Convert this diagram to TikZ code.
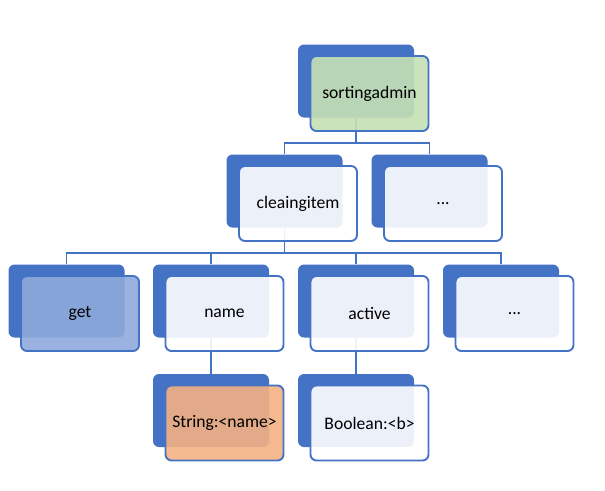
\documentclass[tikz,border=0pt]{standalone}
\usepackage{fontspec}
\setmainfont{Carlito}
\usetikzlibrary{calc}
\definecolor{sablue}{HTML}{4472C4}
\definecolor{sagreen}{HTML}{C5E0B4}
\definecolor{saltblue}{HTML}{8FAADC}
\definecolor{saorange}{HTML}{F4B183}
\definecolor{sawhite}{HTML}{FFFFFF}
\begin{document}
\begin{tikzpicture}[x=1pt,y=-1pt,
  backbox/.style={draw=none,fill=sablue,rounded corners=6pt,minimum width=116pt,minimum height=73pt,inner sep=0pt},
  frontbox/.style={draw=sablue,line width=1.9pt,rounded corners=6pt,minimum width=118pt,minimum height=75pt,inner sep=0pt,fill opacity=0.9,text opacity=1,font=\fontsize{17.6}{20}\selectfont,fill=#1},
  frontbox/.default=sawhite,
  conn/.style={draw=sablue,line width=1.9pt}]
\useasboundingbox (0,0) rectangle (605,490);
% back boxes
\node[backbox] (sb) at (356,81) {};
\node[backbox] (cb) at (284.5,191) {};
\node[backbox] (db) at (429.5,191) {};
\node[backbox] (gb) at (66.5,301) {};
\node[backbox] (nb) at (211,301) {};
\node[backbox] (ab) at (356,301) {};
\node[backbox] (eb) at (501,301) {};
\node[backbox] (tb) at (211,410.5) {};
\node[backbox] (bb) at (356,410.5) {};
% connectors
\draw[conn] (sb.south) -- ++(0,25) -| (cb.north);
\draw[conn] (sb.south) -- ++(0,25) -| (db.north);
\draw[conn] (cb.south) -- ++(0,25) -| (gb.north);
\draw[conn] (cb.south) -- ++(0,25) -| (nb.north);
\draw[conn] (cb.south) -- ++(0,25) -| (ab.north);
\draw[conn] (cb.south) -- ++(0,25) -| (eb.north);
\draw[conn] (nb.south) -- (tb.north);
\draw[conn] (ab.south) -- (bb.north);
% front boxes
\node[frontbox=sagreen] (sf) at ($(sb)+(13.5,12.5)$) {sortingadmin};
\node[frontbox] (cf) at ($(cb)+(13.5,12.5)$) {cleaingitem};
\node[frontbox] (df) at ($(db)+(13.5,12.5)$) {...};
\node[frontbox=saltblue] (gf) at ($(gb)+(13.5,12.5)$) {get};
\node[frontbox] (nf) at ($(nb)+(13.5,12.5)$) {name};
\node[frontbox] (af) at ($(ab)+(13.5,12.5)$) {active};
\node[frontbox] (ef) at ($(eb)+(13.5,12.5)$) {...};
\node[frontbox=saorange] (tf) at ($(tb)+(13.5,12.5)$) {String:<name>};
\node[frontbox] (bf) at ($(bb)+(13.5,12.5)$) {Boolean:<b>};
\end{tikzpicture}
\end{document}
